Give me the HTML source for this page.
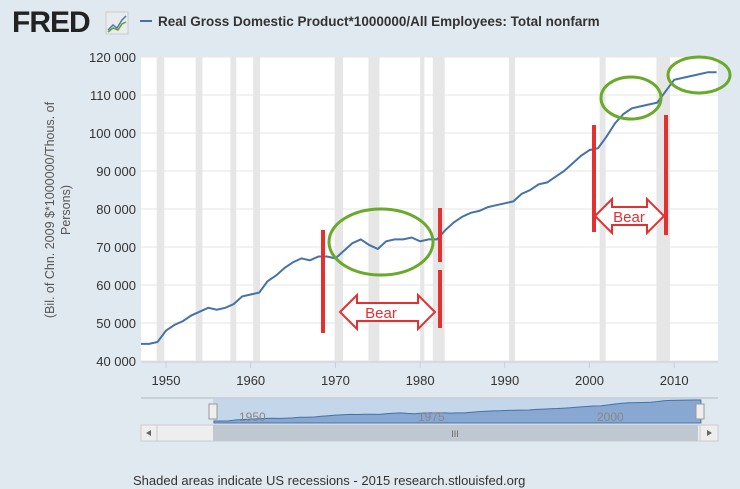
<!DOCTYPE html>
<html><head><meta charset="utf-8"><style>
body{margin:0;background:#fff;}
#wrap{position:relative;width:740px;height:489px;background:#e1e9f0;font-family:"Liberation Sans",sans-serif;overflow:hidden}
svg{position:absolute;left:0;top:0}
</style></head><body>
<div id="wrap">
<svg id="c" width="740" height="489">
 <defs><clipPath id="pc"><rect x="141" y="50" width="577" height="312"/></clipPath></defs>
 <g>
  <text x="12" y="32" font-size="30" font-weight="bold" fill="#222" font-family="Liberation Sans,sans-serif" letter-spacing="-1">FRED</text>
  <rect x="106" y="12" width="22" height="22" fill="#e8ecef" stroke="#ccc"/>
  <polyline points="108,30 113,25 117,28 122,20 126,16" fill="none" stroke="#4a7ab0" stroke-width="1.5"/>
  <polyline points="108,32 113,28 118,30 122,24 126,22" fill="none" stroke="#6a9a30" stroke-width="1.5"/>
 </g>
 <line x1="140" y1="21" x2="152" y2="21" stroke="#4572a7" stroke-width="2"/>
 <text x="158" y="26" font-size="13.5" font-weight="bold" fill="#333">Real Gross Domestic Product*1000000/All Employees: Total nonfarm</text>
 <rect x="141" y="57" width="577" height="305" fill="#fff"/>
 <g id="rec" clip-path="url(#pc)"></g><g id="grid"></g><g id="yl"></g><g id="xl"></g>
 <path id="line" fill="none" stroke="#4572a7" stroke-width="2" clip-path="url(#pc)"/>
 <text transform="translate(62,210) rotate(-90)" text-anchor="middle" font-size="12.5" fill="#555"><tspan x="0" dy="-8">(Bil. of Chn. 2009 $*1000000/Thous. of</tspan><tspan x="0" dy="16">Persons)</tspan></text>
 <g stroke-linecap="butt">
  <line x1="323" y1="230" x2="323" y2="333" stroke="#e53030" stroke-width="4"/>
  <line x1="440" y1="208" x2="440" y2="262" stroke="#e53030" stroke-width="4"/>
  <line x1="440" y1="270" x2="440" y2="328" stroke="#e53030" stroke-width="4"/>
  <line x1="594" y1="125" x2="594" y2="232" stroke="#e53030" stroke-width="4"/>
  <line x1="666" y1="115" x2="666" y2="235" stroke="#e53030" stroke-width="4"/>
  <ellipse cx="381" cy="242" rx="52" ry="33" fill="none" stroke="#6aaa2a" stroke-width="3"/>
  <ellipse cx="631" cy="98" rx="30" ry="21" fill="none" stroke="#6aaa2a" stroke-width="3"/>
  <ellipse cx="699" cy="75" rx="31" ry="18" fill="none" stroke="#6aaa2a" stroke-width="3"/>
  <polygon points="340,312 357,295 357,303 418,303 418,295 435,312 418,329 418,321 357,321 357,329" fill="#fff" stroke="#e53030" stroke-width="2"/>
  <text x="381" y="318" text-anchor="middle" font-size="15" fill="#e53030" stroke="none">Bear</text>
  <polygon points="595,216 612,199 612,207 647,207 647,199 664,216 647,233 647,225 612,225 612,233" fill="#fff" stroke="#e53030" stroke-width="2"/>
  <text x="629" y="222" text-anchor="middle" font-size="15" fill="#e53030" stroke="none">Bear</text>
 </g>
 <g>
  <line x1="141" y1="398" x2="718" y2="398" stroke="#b0b8c0"/>
  <rect x="213" y="399" width="487" height="24" fill="#c3d6ea"/>
  <path id="nav" fill="#88a8d2" stroke="#4572a7" stroke-width="1"/>
  <text x="239" y="421" font-size="12" fill="#888">1950</text>
  <text x="418" y="421" font-size="12" fill="#888">1975</text>
  <text x="597" y="421" font-size="12" fill="#888">2000</text>
  <rect x="209" y="404" width="8" height="15" fill="#eee" stroke="#999"/>
  <rect x="696" y="404" width="8" height="15" fill="#eee" stroke="#999"/>
 </g>
 <g>
  <rect x="141" y="425" width="577" height="16" fill="#eee" stroke="#ccc"/>
  <rect x="141" y="425" width="16" height="16" fill="#eee" stroke="#ccc"/>
  <path d="M151,430 L146,433 L151,436Z" fill="#666"/>
  <rect x="213" y="425" width="485" height="16" fill="#bfc7d0"/>
  <text x="455" y="437" font-size="9" fill="#666" text-anchor="middle">III</text>
  <rect x="700" y="425" width="18" height="16" fill="#eee" stroke="#ccc"/>
  <path d="M707,430 L712,433 L707,436Z" fill="#666"/>
 </g>
 <text x="133" y="485" font-size="13" fill="#333">Shaded areas indicate US recessions - 2015 research.stlouisfed.org</text>
</svg>
</div>
<script>
const years=[1947,1948,1949,1950,1951,1952,1953,1954,1955,1956,1957,1958,1959,1960,1961,1962,1963,1964,1965,1966,1967,1968,1969,1970,1971,1972,1973,1974,1975,1976,1977,1978,1979,1980,1981,1982,1983,1984,1985,1986,1987,1988,1989,1990,1991,1992,1993,1994,1995,1996,1997,1998,1999,2000,2001,2002,2003,2004,2005,2006,2007,2008,2009,2010,2011,2012,2013,2014,2015];
const values=[44500,44500,45000,48000,49500,50500,52000,53000,54000,53500,54000,55000,57000,57500,58000,61000,62500,64500,66000,67000,66500,67500,67500,67000,69000,71000,72000,70500,69500,71500,72000,72000,72500,71500,72000,72000,74500,76500,78000,79000,79500,80500,81000,81500,82000,84000,85000,86500,87000,88500,90000,92000,94000,95500,96000,99000,102500,105000,106500,107000,107500,108000,111000,114000,114500,115000,115500,116000,116000];
const recStart=[1948.9,1953.5,1957.6,1960.3,1969.9,1973.9,1980.0,1981.5,1990.5,2001.2,2007.9];
const recEnd=[1949.8,1954.3,1958.3,1961.1,1970.9,1975.2,1980.5,1982.9,1991.2,2001.9,2009.5];
const yTicks=[40000,50000,60000,70000,80000,90000,100000,110000,120000];
const xTicks=[1950,1960,1970,1980,1990,2000,2010];
const NS='http://www.w3.org/2000/svg';
const X=t=>166+(t-1950)*8.47, Y=v=>361-(v-40000)*38/10000;
const NX=t=>214+(t-1947)*7.16, NY=v=>421-(v-44500)*21/71500;
function mk(tag,p,a){const e=document.createElementNS(NS,tag);for(const k in a)e.setAttribute(k,a[k]);p.appendChild(e);return e;}
const rec=document.getElementById('rec');
recStart.forEach((s,i)=>{const e=mk('rect',rec,{x:X(s),y:57,width:X(recEnd[i])-X(s),height:305,fill:'#e6e6e6'});

});
const g=document.getElementById('grid'),yl=document.getElementById('yl'),xl=document.getElementById('xl');
yTicks.forEach(v=>{const l=mk('line',g,{x1:141,x2:718,y1:Y(v),y2:Y(v),stroke:'#e6e6e6'});


const t=mk('text',yl,{x:136,y:Y(v)+5,'text-anchor':'end','font-size':13,fill:'#333'});t.textContent=String(v).replace(/(\d+)(\d{3})$/,'$1 $2');

});
mk('line',g,{x1:141,x2:718,y1:362,y2:362,stroke:'#c0d0e0'});
xTicks.forEach(v=>{mk('line',g,{x1:X(v),x2:X(v),y1:362,y2:368,stroke:'#c0d0e0'});
const t=mk('text',xl,{x:X(v),y:385,'text-anchor':'middle','font-size':13,fill:'#333'});t.textContent=v;

});
document.getElementById('line').setAttribute('d',years.map((y,i)=>(i?'L':'M')+X(y).toFixed(1)+','+Y(values[i]).toFixed(1)).join(''));
let nd='M'+NX(years[0])+',423';years.forEach((y,i)=>nd+='L'+NX(y).toFixed(1)+','+NY(values[i]).toFixed(1));nd+='L'+NX(years[years.length-1])+',423Z';
document.getElementById('nav').setAttribute('d',nd);
</script>
</body></html>
